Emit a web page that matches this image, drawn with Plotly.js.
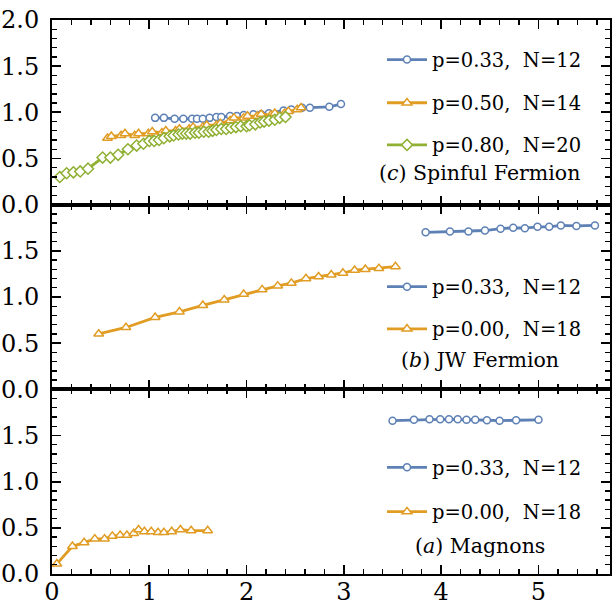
<!DOCTYPE html>
<html>
<head>
<meta charset="utf-8">
<script src="https://cdn.plot.ly/plotly-3.0.1.min.js"></script>
<style>html,body{margin:0;padding:0;background:#fff;}#chart{width:612px;height:607px;}</style>
</head>
<body>
<div id="chart"></div>
<script>
// Panel (c) Spinful Fermion
const cBlueX = [1.06,1.15,1.26,1.35,1.44,1.49,1.55,1.62,1.69,1.74,1.83,1.90,1.97,2.07,2.15,2.23,2.38,2.46,2.57,2.65,2.85,2.97];
const cBlueY = [0.94,0.94,0.93,0.93,0.93,0.93,0.93,0.94,0.95,0.95,0.96,0.96,0.97,0.98,0.98,0.99,1.02,1.03,1.05,1.05,1.06,1.09];
const cOrangeX = [0.57,0.61,0.71,0.75,0.85,0.89,0.99,1.03,1.13,1.17,1.27,1.31,1.41,1.45,1.55,1.59,1.69,1.73,1.83,1.87,1.97,2.01,2.11,2.15,2.25,2.29,2.39,2.43,2.52,2.56];
const cOrangeY = [0.72,0.74,0.75,0.77,0.75,0.77,0.77,0.79,0.78,0.80,0.80,0.82,0.82,0.84,0.84,0.86,0.86,0.88,0.91,0.94,0.94,0.96,0.96,0.98,0.97,0.99,0.99,1.01,1.03,1.05];
const cGreenX = [0.08,0.15,0.22,0.29,0.37,0.52,0.60,0.68,0.78,0.87,0.94,1.00,1.05,1.10,1.15,1.21,1.25,1.30,1.34,1.38,1.42,1.47,1.51,1.56,1.61,1.65,1.69,1.74,1.79,1.84,1.89,1.94,2.00,2.03,2.09,2.14,2.18,2.23,2.29,2.34,2.40];
const cGreenY = [0.30,0.34,0.35,0.36,0.39,0.51,0.51,0.54,0.60,0.64,0.66,0.69,0.69,0.70,0.72,0.74,0.75,0.76,0.77,0.77,0.77,0.78,0.78,0.79,0.79,0.80,0.81,0.82,0.82,0.83,0.84,0.85,0.85,0.86,0.87,0.89,0.90,0.91,0.92,0.94,0.95];
// Panel (b) JW Fermion
const bBlueX = [3.84,4.09,4.28,4.45,4.61,4.74,4.86,4.99,5.11,5.23,5.39,5.58];
const bBlueY = [1.70,1.71,1.71,1.72,1.74,1.75,1.745,1.76,1.76,1.775,1.77,1.775];
const bOrangeX = [0.48,0.76,1.06,1.31,1.55,1.77,1.97,2.16,2.32,2.46,2.61,2.74,2.87,2.99,3.11,3.22,3.36,3.53];
const bOrangeY = [0.60,0.67,0.78,0.84,0.91,0.97,1.03,1.08,1.12,1.15,1.20,1.22,1.24,1.26,1.29,1.30,1.31,1.33];
// Panel (a) Magnons
const aBlueX = [3.50,3.72,3.88,3.99,4.08,4.17,4.26,4.35,4.47,4.60,4.77,5.00];
const aBlueY = [1.66,1.67,1.675,1.675,1.675,1.675,1.67,1.67,1.665,1.66,1.665,1.67];
const aOrangeX = [0.05,0.21,0.33,0.44,0.54,0.62,0.70,0.77,0.84,0.89,0.95,1.02,1.09,1.15,1.23,1.32,1.43,1.60];
const aOrangeY = [0.11,0.30,0.34,0.38,0.38,0.41,0.42,0.42,0.44,0.48,0.46,0.46,0.45,0.45,0.46,0.48,0.47,0.47];

const names = {
  c: ['p=0.33,\u00a0 N=12', 'p=0.50,\u00a0 N=14', 'p=0.80,\u00a0 N=20'],
  b: ['p=0.33,\u00a0 N=12', 'p=0.00,\u00a0 N=18'],
  a: ['p=0.33,\u00a0 N=12', 'p=0.00,\u00a0 N=18']
};
const panelLabels = ['(<i>c</i>) Spinful Fermion', '(<i>b</i>) JW Fermion', '(<i>a</i>) Magnons'];
const xTicks = [0,1,2,3,4,5];
const yTicksTop = [0,0.5,1,1.5,2];
const yTicksLow = [0,0.5,1,1.5];

const BLUE = '#5E81B5', ORANGE = '#E19C24', GREEN = '#8FB032';
const FONT = 'DejaVu Serif';

function tr(x, y, color, symbol, name, xa, ya, leg) {
  return {
    type: 'scatter', mode: 'lines+markers', x: x, y: y, name: name,
    xaxis: xa, yaxis: ya, legend: leg,
    line: {color: color, width: 2.8},
    marker: {symbol: symbol, size: symbol === 'circle' ? 7 : 8.5, color: 'white', line: {color: color, width: 1.5}},
    showlegend: true
  };
}

const data = [
  tr(cBlueX, cBlueY, BLUE, 'circle', names.c[0], 'x3', 'y3', 'legend'),
  tr(cOrangeX, cOrangeY, ORANGE, 'triangle-up', names.c[1], 'x3', 'y3', 'legend2'),
  tr(cGreenX, cGreenY, GREEN, 'diamond', names.c[2], 'x3', 'y3', 'legend3'),
  tr(bBlueX, bBlueY, BLUE, 'circle', names.b[0], 'x2', 'y2', 'legend4'),
  tr(bOrangeX, bOrangeY, ORANGE, 'triangle-up', names.b[1], 'x2', 'y2', 'legend5'),
  tr(aBlueX, aBlueY, BLUE, 'circle', names.a[0], 'x', 'y', 'legend6'),
  tr(aOrangeX, aOrangeY, ORANGE, 'triangle-up', names.a[1], 'x', 'y', 'legend7')
];

const minorX = {ticks: 'inside', tick0: 0, dtick: 0.2, ticklen: 5, tickwidth: 1.3, tickcolor: '#000', showgrid: false};
const minorY = {ticks: 'inside', tick0: 0, dtick: 0.1, ticklen: 5, tickwidth: 1.3, tickcolor: '#000', showgrid: false};

function xax(anchor, labels) {
  return {
    anchor: anchor, range: [0, 5.735], tickmode: 'array', tickvals: xTicks, ticktext: xTicks.map(String),
    showticklabels: labels, ticks: 'inside', ticklen: 9, tickwidth: 1.8, tickcolor: '#000',
    showline: true, linewidth: 2, linecolor: '#000', mirror: 'allticks',
    showgrid: false, zeroline: false, minor: minorX, ticklabelstandoff: -5,
    tickfont: {family: FONT, size: 24, color: '#000'}
  };
}
function yax(domain, anchor, ticks) {
  return {
    domain: domain, anchor: anchor, range: [0, 2], tickmode: 'array', tickvals: ticks,
    ticktext: ticks.map(v => v.toFixed(1)),
    ticks: 'inside', ticklen: 9, tickwidth: 1.8, tickcolor: '#000',
    showline: true, linewidth: 2, linecolor: '#000', mirror: 'allticks',
    showgrid: false, zeroline: false, minor: minorY, ticklabelstandoff: 6,
    tickfont: {family: FONT, size: 24, color: '#000'}
  };
}

function leg(y) {
  return {x: 0.5914, xanchor: 'left', y: y, yanchor: 'middle', bgcolor: 'rgba(0,0,0,0)',
          borderwidth: 0, font: {family: FONT, size: 19.5, color: '#000'}, itemwidth: 40};
}

const labelX = 0.767;
const layout = {
  width: 612, height: 607,
  margin: {l: 52, r: 2, t: 20, b: 33},
  paper_bgcolor: '#fff', plot_bgcolor: '#fff',
  font: {family: FONT, color: '#000'},
  xaxis: xax('y', true),
  xaxis2: Object.assign(xax('y2', false), {matches: 'x'}),
  xaxis3: Object.assign(xax('y3', false), {matches: 'x'}),
  yaxis: yax([0, 1/3], 'x', yTicksLow),
  yaxis2: yax([1/3, 2/3], 'x2', yTicksLow),
  yaxis3: yax([2/3, 1], 'x3', yTicksTop),
  legend: leg(0.928), legend2: leg(0.850), legend3: leg(0.774),
  legend4: leg(0.518), legend5: leg(0.442),
  legend6: leg(0.192), legend7: leg(0.112),
  annotations: [
    {text: panelLabels[0], xref: 'paper', yref: 'paper', x: labelX, y: 0.723, xanchor: 'center', yanchor: 'middle', showarrow: false, font: {family: FONT, size: 20.5, color: '#000'}},
    {text: panelLabels[1], xref: 'paper', yref: 'paper', x: labelX, y: 0.386, xanchor: 'center', yanchor: 'middle', showarrow: false, font: {family: FONT, size: 20.5, color: '#000'}},
    {text: panelLabels[2], xref: 'paper', yref: 'paper', x: labelX, y: 0.0505, xanchor: 'center', yanchor: 'middle', showarrow: false, font: {family: FONT, size: 20.5, color: '#000'}}
  ]
};

Plotly.newPlot('chart', data, layout, {displayModeBar: false, staticPlot: true});
</script>
</body>
</html>
